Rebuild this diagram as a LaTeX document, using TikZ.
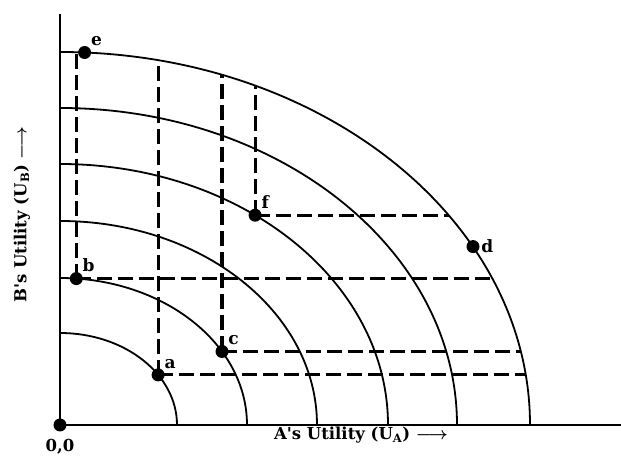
\documentclass[tikz,border=0pt]{standalone}
\usepackage{amsmath}
\usepackage{fontspec}
\newfontfamily\lblfont{DejaVu Serif}
\usepackage{tikz}
\usetikzlibrary{positioning,calc}
\tikzset{
    axis/.style={line width=2.4pt},
    upc/.style={line width=1.8pt},
    guide/.style={line width=3.2pt, dash pattern=on 15pt off 6pt},
    pt/.style={circle, fill=black, minimum size=13pt, inner sep=0},
    ptlabel/.style={font=\lblfont\fontsize{17}{20}\selectfont\bfseries, inner sep=1.5pt},
    axlabel/.style={font=\lblfont\fontsize{16.5}{19}\selectfont\bfseries, inner sep=0},
}
% frontier (outermost curve): x radius 470, y radius 373
\newcommand{\frontY}[1]{373*sqrt(1-((#1)/470)^2)}
\newcommand{\frontX}[1]{470*sqrt(1-((#1)/373)^2)}

\begin{document}
\begin{tikzpicture}[x=1pt, y=1pt]
    \useasboundingbox (-60,-32) rectangle (561,425);

    % axes
    \node[pt] (o) at (0,0) {};
    \coordinate (ytop) at (0,411);
    \coordinate (xend) at (561,0);
    \draw[axis] (ytop) -- (o.center) -- (xend);

    % utility possibility curves
    \foreach \a/\b in {117/92, 187/147, 257/204, 328/261, 397/317, 470/373}
        \draw[upc] (\a,0) arc[start angle=0, end angle=90, x radius=\a, y radius=\b];

    % points
    \node[pt, label={[ptlabel]above right:e}] (e) at (24.6,372.5) {};
    \node[pt, label={[ptlabel]above right:b}] (b) at (16.3,146.4) {};
    \node[pt, label={[ptlabel]above right:a}] (a) at (98.1,50.1) {};
    \node[pt, label={[ptlabel]above right:c}] (c) at (162,73.5) {};
    \node[pt, label={[ptlabel]above right:f}] (f) at (195.1,209.8) {};
    \node[pt, label={[ptlabel]right:d}] (d) at (413,178.4) {};

    % ends of the guides on the frontier
    \foreach \p/\x in {b/16.3, a/98.1, c/162, f/195.1}
        \coordinate (\p v) at (\x,{\frontY{\x}});
    \foreach \p/\y in {b/146.4, a/50.1, c/73.5, f/209.8}
        \coordinate (\p h) at ({\frontX{\y}},\y);

    \foreach \p in {b, a, c, f} {
        \draw[guide] (\p.center) -- (\p v);
        \draw[guide] (\p.center) -- (\p h);
    }

    % labels
    \node[axlabel] (olab) at (0,-22) {0,0};
    \node[axlabel] (xlab) at (301,-10) {A's Utility (U\textsubscript{A}) $\boldsymbol{\longrightarrow}$};
    \node[axlabel, rotate=90] (ylab) at (-38,210) {B's Utility (U\textsubscript{B}) $\boldsymbol{\longrightarrow}$};
\end{tikzpicture}
\end{document}
